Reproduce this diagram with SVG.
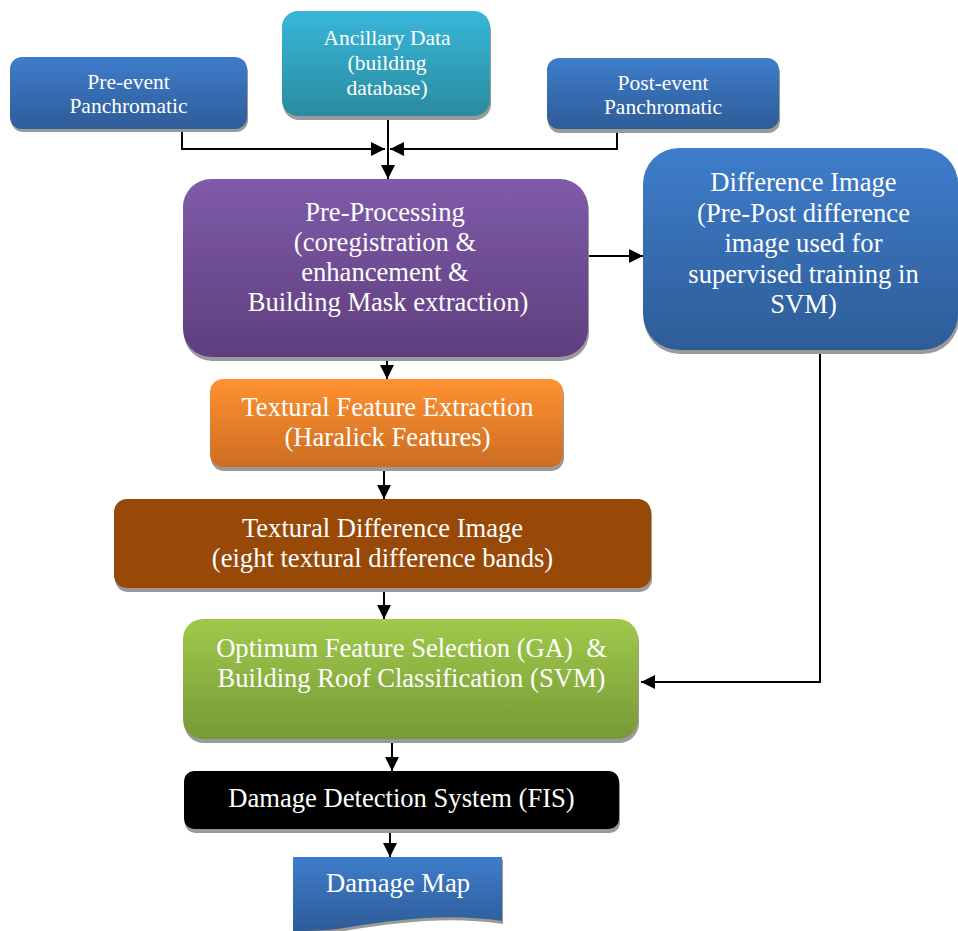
<svg xmlns="http://www.w3.org/2000/svg" width="958" height="931" viewBox="0 0 958 931">
<style>
.t{font-family:"Liberation Serif","Times New Roman",serif;fill:#fff;text-anchor:middle}
.s1{font-size:21.5px}.s2{font-size:26.6px}
.sh{fill:#9a9a9a}
.c{stroke:#000;stroke-width:2;fill:none}
</style>
<defs>
<linearGradient id="gBlue" x1="0" y1="0" x2="0" y2="1"><stop offset="0" stop-color="#3e7dcb"/><stop offset="1" stop-color="#2e5c97"/></linearGradient>
<linearGradient id="gCyan" x1="0" y1="0" x2="0" y2="1"><stop offset="0" stop-color="#38b7da"/><stop offset="1" stop-color="#2a8b9e"/></linearGradient>
<linearGradient id="gPurple" x1="0" y1="0" x2="0" y2="1"><stop offset="0" stop-color="#7f5ba9"/><stop offset="1" stop-color="#5e3e7e"/></linearGradient>
<linearGradient id="gOrange" x1="0" y1="0" x2="0" y2="1"><stop offset="0" stop-color="#ff9232"/><stop offset="1" stop-color="#cc6d22"/></linearGradient>
<linearGradient id="gGreen" x1="0" y1="0" x2="0" y2="1"><stop offset="0" stop-color="#a0c94b"/><stop offset="1" stop-color="#779937"/></linearGradient>
<marker id="ah" viewBox="0 0 10 10" refX="10" refY="5" markerWidth="7" markerHeight="7" orient="auto" markerUnits="strokeWidth"><path d="M0,0 L10,5 L0,10 z" fill="#000"/></marker>
</defs>

<g id="connectors">
<path class="c" d="M182,129 V149 H385" marker-end="url(#ah)"/>
<path class="c" d="M617,129 V149 H390" marker-end="url(#ah)"/>
<path class="c" d="M388,116 V179" marker-end="url(#ah)"/>
<path class="c" d="M588,256 H643" marker-end="url(#ah)"/>
<path class="c" d="M387,350 V379" marker-end="url(#ah)"/>
<path class="c" d="M384,467 V499" marker-end="url(#ah)"/>
<path class="c" d="M384,588 V619" marker-end="url(#ah)"/>
<path class="c" d="M392,739 V771" marker-end="url(#ah)"/>
<path class="c" d="M390,829 V857" marker-end="url(#ah)"/>
<path class="c" d="M820,350 V682 H641" marker-end="url(#ah)"/>
</g>

<g id="pre-event">
<rect class="sh" x="11" y="60" width="237" height="72" rx="12"/>
<rect x="10" y="57" width="237" height="72" rx="12" fill="url(#gBlue)"/>
<text class="t s1" x="128.5" y="89">Pre-event</text>
<text class="t s1" x="128.5" y="113">Panchromatic</text>
</g>

<g id="ancillary">
<rect class="sh" x="283" y="15" width="208" height="105" rx="16"/>
<rect x="282" y="11" width="208" height="105" rx="16" fill="url(#gCyan)"/>
<text class="t s1" x="387" y="45">Ancillary Data</text>
<text class="t s1" x="387" y="70">(building</text>
<text class="t s1" x="387" y="95">database)</text>
</g>

<g id="post-event">
<rect class="sh" x="548" y="61" width="232" height="72" rx="12"/>
<rect x="547" y="58" width="232" height="71" rx="12" fill="url(#gBlue)"/>
<text class="t s1" x="663" y="90">Post-event</text>
<text class="t s1" x="663" y="114">Panchromatic</text>
</g>

<g id="preprocessing">
<rect class="sh" x="184" y="183" width="405" height="178" rx="28"/>
<rect x="183" y="179" width="405" height="178" rx="28" fill="url(#gPurple)"/>
<text class="t s2" x="385" y="221">Pre-Processing</text>
<text class="t s2" x="385" y="251">(coregistration &amp;</text>
<text class="t s2" x="385" y="281">enhancement &amp;</text>
<text class="t s2" x="388" y="311">Building Mask extraction)</text>
</g>

<g id="difference">
<rect class="sh" x="644" y="152" width="315" height="202" rx="36"/>
<rect x="643" y="148" width="315" height="202" rx="36" fill="url(#gBlue)"/>
<text class="t s2" x="803.5" y="191">Difference Image</text>
<text class="t s2" x="803.5" y="222">(Pre-Post difference</text>
<text class="t s2" x="803.5" y="252">image used for</text>
<text class="t s2" x="803.5" y="283">supervised training in</text>
<text class="t s2" x="803.5" y="313">SVM)</text>
</g>

<g id="texture-extraction">
<rect class="sh" x="211" y="382" width="353" height="89" rx="13"/>
<rect x="210" y="379" width="353" height="88" rx="13" fill="url(#gOrange)"/>
<text class="t s2" x="387.5" y="416">Textural Feature Extraction</text>
<text class="t s2" x="387.5" y="446">(Haralick Features)</text>
</g>

<g id="texture-difference">
<rect class="sh" x="115" y="502" width="537" height="90" rx="13"/>
<rect x="114" y="499" width="537" height="89" rx="13" fill="#984807"/>
<text class="t s2" x="382.5" y="537">Textural Difference Image</text>
<text class="t s2" x="382.5" y="567">(eight textural difference bands)</text>
</g>

<g id="classification">
<rect class="sh" x="184" y="622" width="455" height="121" rx="20"/>
<rect x="183" y="619" width="455" height="120" rx="20" fill="url(#gGreen)"/>
<text class="t s2" x="411.5" y="657" xml:space="preserve">Optimum Feature Selection (GA)  &amp;</text>
<text class="t s2" x="411.5" y="687">Building Roof Classification (SVM)</text>
</g>

<g id="fis">
<rect class="sh" x="185" y="774" width="435" height="59" rx="10"/>
<rect x="184" y="771" width="435" height="58" rx="10" fill="#000"/>
<text class="t s2" x="401.5" y="807">Damage Detection System (FIS)</text>
</g>

<g id="damage-map">
<path class="sh" d="M294,860 H503 V924 C450,916 400,922 350,930 C330,934 310,934 294,934 Z"/>
<path d="M293,857 H502 V921 C450,913 400,919 350,927 C330,931 310,931 293,931 Z" fill="url(#gBlue)"/>
<text class="t s2" x="398" y="892">Damage Map</text>
</g>
</svg>
